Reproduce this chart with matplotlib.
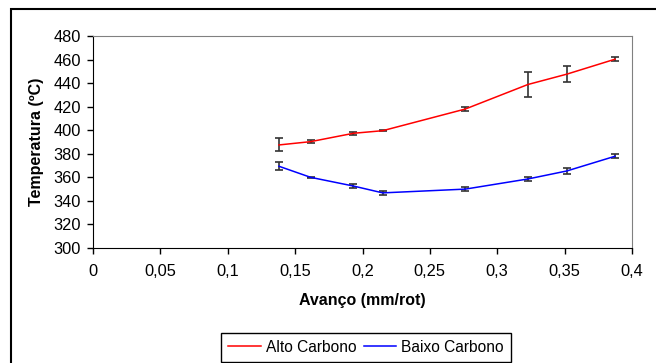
import matplotlib
matplotlib.use("Agg")
import matplotlib.pyplot as plt
from matplotlib.lines import Line2D
from matplotlib.patches import Rectangle
from matplotlib.ticker import FuncFormatter

plt.rcParams['font.family'] = ['Liberation Sans', 'DejaVu Sans']

# feed values (mm/rot)
avanco = [0.138, 0.1615, 0.1933, 0.215, 0.2763, 0.3227, 0.3516, 0.3874]
# temperatures and error bar half-widths
alto = [387.5, 390.3, 397.4, 399.6, 418.0, 438.8, 447.6, 460.3]
alto_err = [5.5, 1.0, 1.5, 0.6, 2.0, 11.0, 6.6, 1.8]
baixo = [369.4, 360.0, 352.6, 346.8, 350.0, 358.6, 365.4, 377.9]
baixo_err = [3.3, 0.5, 1.5, 1.5, 1.5, 1.8, 2.2, 1.5]

xticks = [0, 0.05, 0.1, 0.15, 0.2, 0.25, 0.3, 0.35, 0.4]
yticks = list(range(300, 481, 20))

fig = plt.figure(figsize=(6.56, 3.63), dpi=100)
ax = fig.add_axes([93/656, 1-248/363, (632-93)/656, (248-36)/363])

ax.errorbar(avanco, alto, yerr=alto_err, color='red', lw=1.1, ecolor='#333333',
            elinewidth=1.2, capsize=3.2, capthick=1.2)
ax.errorbar(avanco, baixo, yerr=baixo_err, color='blue', lw=1.1, ecolor='#333333',
            elinewidth=1.2, capsize=3.2, capthick=1.2)

ax.set_xlim(0, 0.4)
ax.set_ylim(300, 480)
ax.set_xticks(xticks)
ax.set_yticks(yticks)
ax.xaxis.set_major_formatter(FuncFormatter(lambda v, p: ('%g' % v).replace('.', ',')))
ax.tick_params(direction='out', length=4, width=1, labelsize=11.8, colors='black')
ax.tick_params(axis='x', pad=7.5)
ax.tick_params(axis='y', pad=4.5)

for s in ['top', 'right']:
    ax.spines[s].set_color('#808080')
for s in ['left', 'bottom']:
    ax.spines[s].set_color('black')

ax.set_xlabel('Avanço (mm/rot)', fontsize=11.5, fontweight='bold', labelpad=10)
ax.set_ylabel('Temperatura (ºC)', fontsize=11.5, fontweight='bold', labelpad=7)

handles = [Line2D([], [], color='red', lw=1.1), Line2D([], [], color='blue', lw=1.1)]
leg = fig.legend(handles=handles, labels=['Alto Carbono', 'Baixo Carbono'],
                 loc='center', bbox_to_anchor=(366/656, 1-347/363), ncol=2,
                 fontsize=11.2, fancybox=False, edgecolor='black', framealpha=1,
                 handlelength=2.1, handletextpad=0.33, columnspacing=0.45,
                 borderpad=0.45, borderaxespad=0)
leg.get_frame().set_linewidth(1)

fig.patches.append(Rectangle((11/656, -0.01), 0.99, 1-9/363+0.01,
                             transform=fig.transFigure, fill=False,
                             edgecolor='black', lw=1.5))

fig.savefig('out.png', dpi=100)
